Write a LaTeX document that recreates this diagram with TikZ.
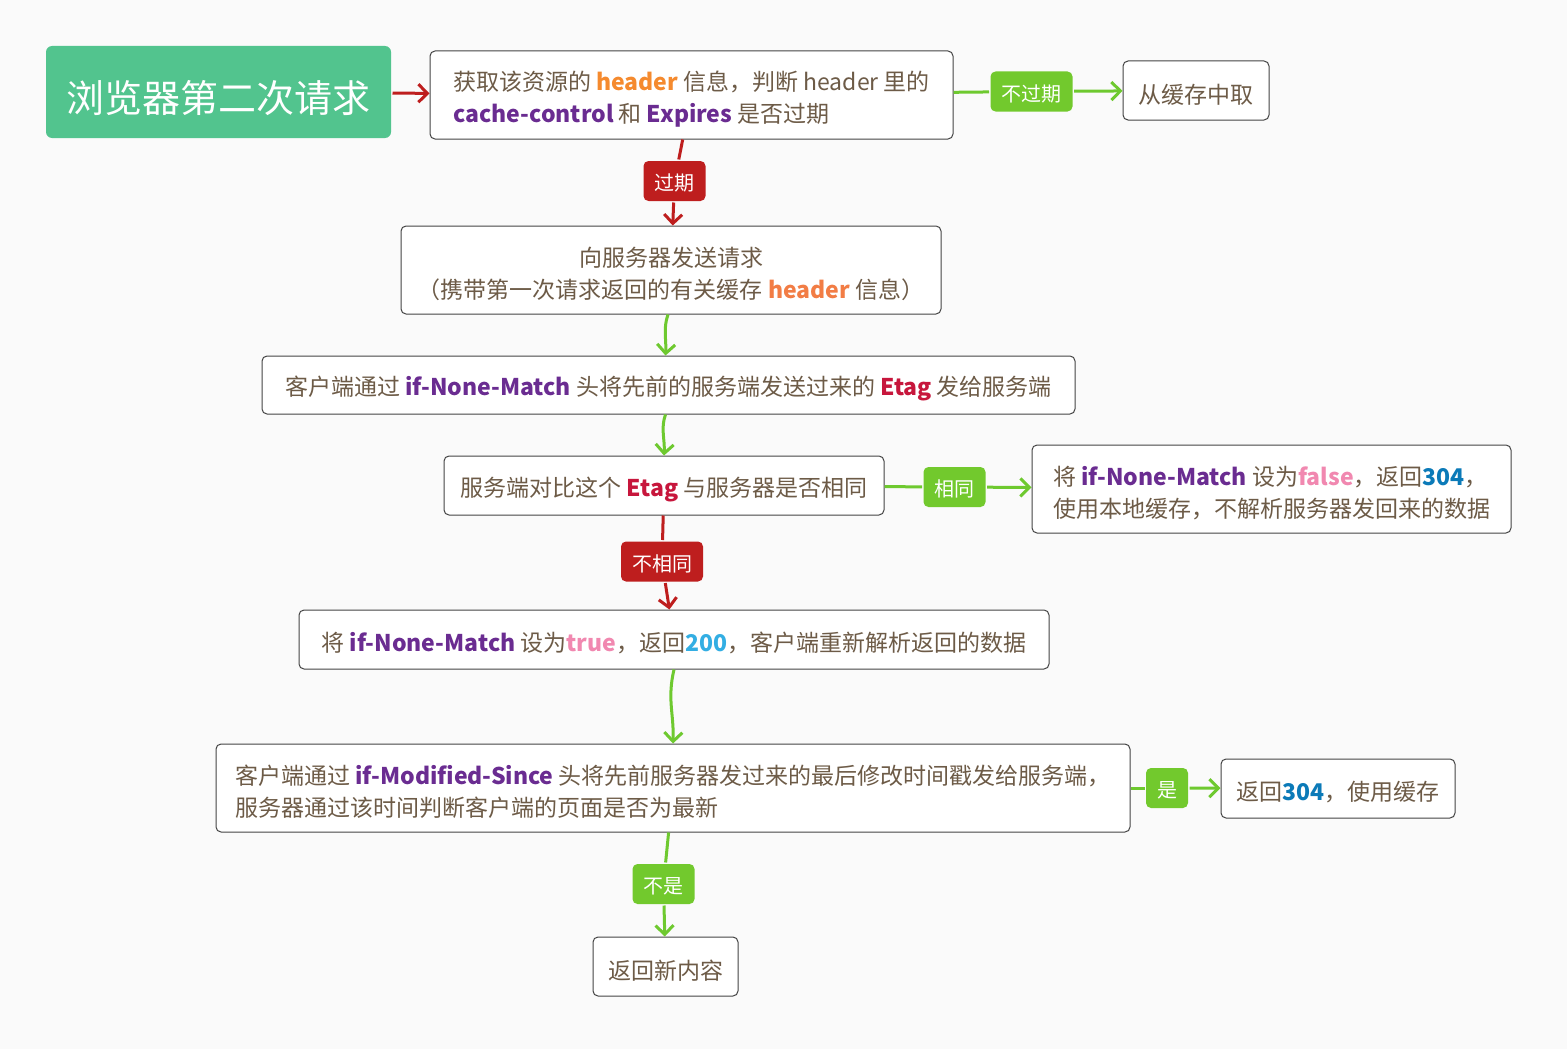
\documentclass[tikz,border=0pt]{standalone}
\usepackage{fontspec}
\usepackage{xcolor}
\setmainfont{Noto Sans CJK SC}
\usetikzlibrary{arrows.meta}

\definecolor{bgc}{HTML}{FAFAFA}
\definecolor{txt}{HTML}{6D5B47}
\definecolor{boxline}{HTML}{444444}
\definecolor{titleg}{HTML}{52C48E}
\definecolor{lineg}{HTML}{6EC92F}
\definecolor{tagg}{HTML}{72C92D}
\definecolor{liner}{HTML}{BE1E1E}
\definecolor{hdr}{HTML}{F58A2E}
\definecolor{hdrb}{HTML}{F27D45}
\definecolor{kwp}{HTML}{6A2C91}
\definecolor{etag}{HTML}{C7163C}
\definecolor{bool}{HTML}{F188B0}
\definecolor{codea}{HTML}{0B7AB8}
\definecolor{codeb}{HTML}{33AEE3}

\newcommand{\kw}[2]{\textcolor{#1}{\textbf{#2}}}
% extra room above the first line, pushes the text a little down
\newcommand{\lift}[1]{\rule{0pt}{#1}}

\begin{document}
\begin{tikzpicture}[x=1pt, y=-1pt, line width=3pt,
  box/.style={draw=boxline, line width=1pt, fill=white, rounded corners=5pt,
    text=txt, inner sep=0pt, font=\fontsize{23}{32}\selectfont},
  tagbox/.style={rounded corners=5pt, text=white, inner xsep=11pt, inner ysep=0pt,
    minimum height=40pt, font=\fontsize{20}{24}\selectfont},
  oktag/.style={tagbox, fill=tagg},
  badtag/.style={tagbox, fill=liner},
  gline/.style={draw=lineg, line width=3pt},
  rline/.style={draw=liner, line width=3pt},
  tip/.style={-{Straight Barb[length=9pt,width=18pt]}}]
  \fill[bgc] (0,0) rectangle (1567,1049);

  % boxes
  \node[fill=titleg, rounded corners=6pt, text=white, minimum width=345pt, minimum height=92pt,
        font=\fontsize{38}{40}\selectfont] (title) at (218.5,92) {\lift{44pt}浏览器第二次请求};
  \node[box, minimum width=523pt, minimum height=88pt, align=left] (fetch) at (691.5,95)
        {\lift{27pt}获取该资源的 \kw{hdr}{header} 信息，判断 header 里的\\\kw{kwp}{cache-control} 和 \kw{kwp}{Expires} 是否过期};
  \node[box, minimum width=146pt, minimum height=59pt] (cached) at (1196,90.5) {\lift{27pt}从缓存中取};
  \node[box, minimum width=540pt, minimum height=88pt, align=center] (request) at (671,270)
        {\lift{27pt}向服务器发送请求\\（携带第一次请求返回的有关缓存 \kw{hdrb}{header} 信息）};
  \node[box, minimum width=813pt, minimum height=58pt] (sendtag) at (668.5,385)
        {\lift{27pt}客户端通过 \kw{kwp}{if-None-Match} 头将先前的服务端发送过来的 \kw{etag}{Etag} 发给服务端};
  \node[box, minimum width=440pt, minimum height=59pt] (compare) at (664,485.5)
        {\lift{27pt}服务端对比这个 \kw{etag}{Etag} 与服务器是否相同};
  \node[box, minimum width=479pt, minimum height=88pt, align=left] (same) at (1271.5,489)
        {\lift{27pt}将 \kw{kwp}{if-None-Match} 设为\kw{bool}{false}，返回\kw{codea}{304}，\\使用本地缓存，不解析服务器发回来的数据};
  \node[box, minimum width=750pt, minimum height=59pt] (differ) at (674,639.5)
        {\lift{27pt}将 \kw{kwp}{if-None-Match} 设为\kw{bool}{true}，返回\kw{codeb}{200}，客户端重新解析返回的数据};
  \node[box, minimum width=914pt, minimum height=88pt, align=left] (modsince) at (673,788)
        {\lift{27pt}客户端通过 \kw{kwp}{if-Modified-Since} 头将先前服务器发过来的最后修改时间戳发给服务端，\\服务器通过该时间判断客户端的页面是否为最新};
  \node[box, minimum width=234pt, minimum height=59pt] (notmod) at (1338,788.5)
        {\lift{27pt}返回\kw{codea}{304}，使用缓存};
  \node[box, minimum width=145pt, minimum height=59pt] (newbody) at (665.5,966.5) {\lift{27pt}返回新内容};

  % branch tags
  \node[oktag] (lnotexp) at (1031.5,91.5) {\lift{21pt}不过期};
  \node[badtag] (lexp) at (674.5,181) {\lift{21pt}过期};
  \node[oktag] (lsame) at (954.5,487) {\lift{21pt}相同};
  \node[badtag] (ldiff) at (662,561.5) {\lift{21pt}不相同};
  \node[oktag] (lyes) at (1167,788) {\lift{21pt}是};
  \node[oktag] (lno) at (663.5,884) {\lift{21pt}不是};

  % connectors
  \draw[rline, tip] (title) -- (fetch);
  \draw[gline] (fetch) -- (lnotexp);
  \draw[gline, tip] (lnotexp) -- (cached);
  \draw[rline] (fetch) -- (lexp);
  \draw[rline, tip] (lexp) -- (request);
  \draw[gline, tip] ([xshift=-3pt]request.south) .. controls +(-5,14) and +(1,-16) .. ([xshift=-3pt]sendtag.north);
  \draw[gline, tip] ([xshift=-3pt]sendtag.south) .. controls +(-5,14) and +(1,-16) .. (compare.north);
  \draw[gline] (compare) -- (lsame);
  \draw[gline, tip] (lsame) -- (same);
  \draw[rline] (compare) -- (ldiff);
  \draw[rline, tip] (ldiff) -- (differ);
  \draw[gline, tip] (differ.south) .. controls +(-7,30) and +(1,-30) .. (modsince.north);
  \draw[gline] (modsince) -- (lyes);
  \draw[gline, tip] (lyes) -- (notmod);
  \draw[gline] (modsince) -- (lno);
  \draw[gline, tip] (lno) -- (newbody);
\end{tikzpicture}
\end{document}
